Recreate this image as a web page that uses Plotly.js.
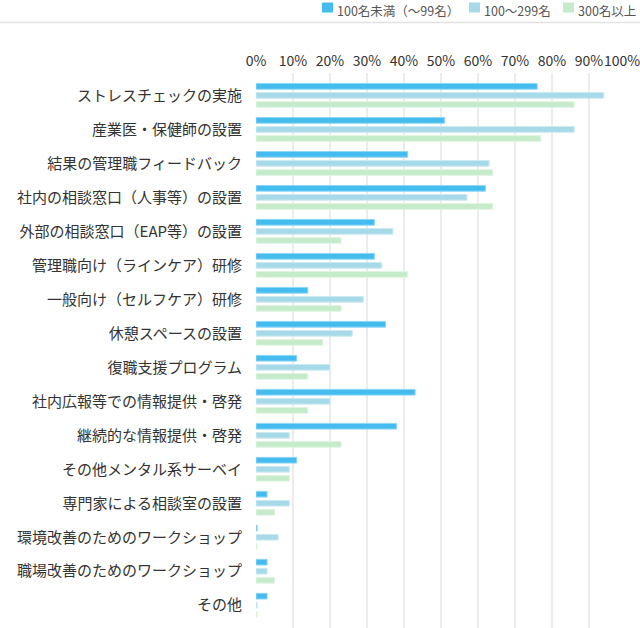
<!DOCTYPE html>
<html>
<head>
<meta charset="utf-8">
<script src="https://cdn.plot.ly/plotly-3.0.1.min.js"></script>
<style>html,body{margin:0;padding:0;background:#fff;}#chart{width:640px;height:628px;}</style>
</head>
<body>
<div id="chart"></div>
<script>
const categories = [
  "ストレスチェックの実施",
  "産業医・保健師の設置",
  "結果の管理職フィードバック",
  "社内の相談窓口（人事等）の設置",
  "外部の相談窓口（EAP等）の設置",
  "管理職向け（ラインケア）研修",
  "一般向け（セルフケア）研修",
  "休憩スペースの設置",
  "復職支援プログラム",
  "社内広報等での情報提供・啓発",
  "継続的な情報提供・啓発",
  "その他メンタル系サーベイ",
  "専門家による相談室の設置",
  "環境改善のためのワークショップ",
  "職場改善のためのワークショップ",
  "その他"
];
const seriesNames = ["100名未満（〜99名）", "100〜299名", "300名以上"];
const under100 = [76, 51, 41, 62, 32, 32, 14, 35, 11, 43, 38, 11, 3, 0.3, 3, 3];
const mid100to299 = [94, 86, 63, 57, 37, 34, 29, 26, 20, 20, 9, 9, 9, 6, 3, 0.3];
const over300 = [86, 77, 64, 64, 23, 41, 23, 18, 14, 14, 23, 9, 5, 0.3, 5, 0.3];
const tickVals = [0, 10, 20, 30, 40, 50, 60, 70, 80, 90, 100];
const tickText = ["0%", "10%", "20%", "30%", "40%", "50%", "60%", "70%", "80%", "90%", "100%"];
const colors = ["#45bcef", "#a7dae9", "#c6ebca"];
const lineColors = ["#8fd6f5", "#cdeaf2", "#dff5e1"];

const seriesValues = [under100, mid100to299, over300];
const traces = seriesValues.map((vals, i) => ({
  type: "bar",
  orientation: "h",
  name: seriesNames[i],
  x: vals,
  y: categories,
  marker: { color: colors[i], line: { color: lineColors[i], width: 1 } },
  hoverinfo: "x+name",
  showlegend: false
}));

const W = 640, H = 628, ML = 256, MR = 14, MT = 73, MB = 0;
const pw = W - ML - MR, ph = H - MT - MB;
const px = x => (x - ML) / pw;
const py = y => 1 + (MT - y) / ph;

// manual legend (swatch + label), left pixel positions of each swatch
const legendSwatchX = [322, 469, 563];
const shapes = [{
  type: "line",
  xref: "paper", yref: "paper",
  x0: px(0), x1: px(W),
  y0: py(22.5), y1: py(22.5),
  line: { color: "#e2e2e2", width: 1.5 }
}];
const annotations = [];
seriesNames.forEach((name, i) => {
  const sx = legendSwatchX[i];
  shapes.push({
    type: "rect", xref: "paper", yref: "paper",
    x0: px(sx), x1: px(sx + 11), y0: py(12.5), y1: py(2.5),
    fillcolor: colors[i], line: { width: 0 }
  });
  annotations.push({
    xref: "paper", yref: "paper",
    x: px(sx + 14), y: py(-0.5),
    xanchor: "left", yanchor: "top",
    borderpad: 0,
    text: name, showarrow: false,
    font: { size: 12.5, color: "#555555" }
  });
});

// the last tick label sits at the right edge; draw it nudged inward so it is not clipped
const lastTick = tickVals.length - 1;
const axisTickText = tickText.map((t, i) => (i === lastTick ? "" : t));
annotations.push({
  xref: "x", yref: "paper",
  x: tickVals[lastTick], y: py(59.5),
  xanchor: "center", yanchor: "middle",
  xshift: -4, borderpad: 0,
  text: tickText[lastTick], showarrow: false,
  font: { size: 14, color: "#333333" }
});

const layout = {
  width: W, height: H,
  margin: { l: ML, r: MR, t: MT, b: MB, pad: 0 },
  paper_bgcolor: "#ffffff",
  plot_bgcolor: "#ffffff",
  font: { family: "'Noto Sans CJK JP', 'Noto Sans', sans-serif", color: "#333333" },
  barmode: "group",
  bargap: 0.2,
  bargroupgap: 0.37,
  showlegend: false,
  xaxis: {
    side: "top",
    range: [0, 100],
    tickvals: tickVals,
    ticktext: axisTickText,
    tickangle: 0,
    tickfont: { size: 14, color: "#333333" },
    ticklabeloverflow: "allow",
    showgrid: true,
    gridcolor: "#ececec",
    gridwidth: 1.5,
    zeroline: false,
    showline: false,
    ticks: "outside",
    ticklen: 0.5,
    tickcolor: "rgba(0,0,0,0)",
    fixedrange: true
  },
  yaxis: {
    type: "category",
    categoryorder: "array",
    categoryarray: categories,
    range: [15.67, -0.66],
    tickfont: { size: 15, color: "#333333" },
    showgrid: false,
    zeroline: false,
    showline: false,
    ticks: "outside",
    ticklen: 10,
    tickcolor: "rgba(0,0,0,0)",
    fixedrange: true
  },
  shapes: shapes,
  annotations: annotations
};

Plotly.newPlot("chart", traces, layout, { displayModeBar: false, staticPlot: true });
</script>
</body>
</html>
